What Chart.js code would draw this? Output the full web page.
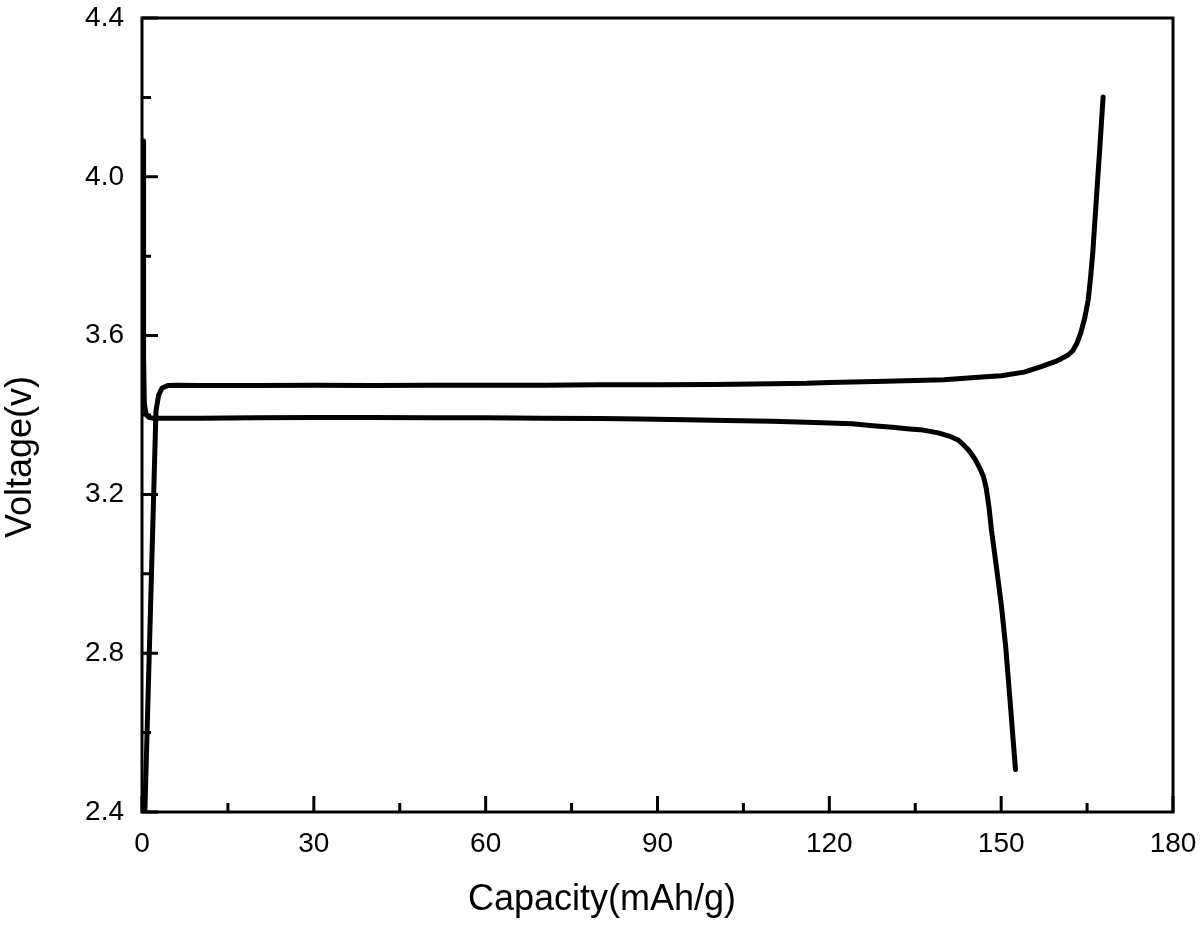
<!DOCTYPE html>
<html>
<head>
<meta charset="utf-8">
<style>
html,body{margin:0;padding:0;background:#fff;}
#wrap{width:1200px;height:925px;position:relative;}
</style>
<script src="https://cdn.jsdelivr.net/npm/chart.js@4.4.1/dist/chart.umd.min.js"></script>
</head>
<body>
<div id="wrap"><canvas id="c" width="1200" height="925"></canvas></div>
<script>
// ---- data ----
const chargeCapacity = [0.5, 1.0, 1.5, 2.0, 2.44, 2.9, 3.5, 4.5, 6, 10, 20, 30, 40, 50, 60, 70, 80, 90, 100, 110, 116, 120, 130, 140, 143, 146, 150, 154, 157, 159.5, 160.5, 161.7, 162.5, 163.2, 163.9, 164.6, 165.2, 165.6, 166.0, 166.3, 166.6, 166.9, 167.2, 167.5, 167.8];
const chargeVoltage  = [2.40, 2.66, 2.92, 3.18, 3.41, 3.45, 3.468, 3.474, 3.475, 3.474, 3.474, 3.475, 3.474, 3.475, 3.475, 3.475, 3.476, 3.476, 3.477, 3.479, 3.480, 3.482, 3.485, 3.489, 3.492, 3.495, 3.499, 3.508, 3.522, 3.535, 3.542, 3.551, 3.562, 3.580, 3.607, 3.645, 3.690, 3.745, 3.810, 3.875, 3.940, 4.005, 4.068, 4.135, 4.201];

const dischargeCapacity = [0.2, 0.25, 0.3, 0.4, 0.7, 1.2, 2, 5, 10, 20, 30, 40, 50, 60, 70, 80, 87, 95, 102, 110, 116, 120, 124, 127.6, 131, 134, 136.4, 139, 141.1, 142.5, 143.4, 144.3, 145.1, 145.7, 146.3, 146.9, 147.4, 147.9, 148.3, 149.3, 150.0, 150.8, 151.5, 152.5];
const dischargeVoltage  = [4.09, 3.80, 3.55, 3.43, 3.402, 3.394, 3.392, 3.392, 3.392, 3.393, 3.394, 3.394, 3.393, 3.393, 3.392, 3.391, 3.390, 3.388, 3.386, 3.384, 3.382, 3.380, 3.378, 3.373, 3.369, 3.365, 3.362, 3.355, 3.346, 3.337, 3.325, 3.312, 3.296, 3.282, 3.265, 3.245, 3.215, 3.165, 3.111, 3.003, 2.925, 2.815, 2.690, 2.507];

const xTickValues = [0, 30, 60, 90, 120, 150, 180];
const xTickLabels = ['0', '30', '60', '90', '120', '150', '180'];
const xMinorTickValues = [15, 45, 75, 105, 135, 165];
const yTickValues = [2.4, 2.8, 3.2, 3.6, 4.0, 4.4];
const yTickLabels = ['2.4', '2.8', '3.2', '3.6', '4.0', '4.4'];
const yMinorTickValues = [2.6, 3.0, 3.4, 3.8, 4.2];
const xTitle = 'Capacity(mAh/g)';
const yTitle = 'Voltage(v)';

// ---- build datasets from the arrays ----
const toPoints = (xs, ys) => xs.map((x, i) => ({x: x, y: ys[i]}));

const FONT = '"Liberation Sans", Arial, sans-serif';

const framePlugin = {
  id: 'frameAndTicks',
  beforeDatasetsDraw(chart) {
    const ctx = chart.ctx;
    const a = chart.chartArea;
    const xs = chart.scales.x, ys = chart.scales.y;
    ctx.save();
    ctx.strokeStyle = '#000';
    ctx.lineWidth = 3;
    ctx.lineCap = 'butt';
    ctx.strokeRect(a.left, a.top, a.right - a.left, a.bottom - a.top);
    ctx.beginPath();
    xTickValues.forEach(v => {
      const p = xs.getPixelForValue(v);
      ctx.moveTo(p, a.bottom); ctx.lineTo(p, a.bottom - 16);
    });
    xMinorTickValues.forEach(v => {
      const p = xs.getPixelForValue(v);
      ctx.moveTo(p, a.bottom); ctx.lineTo(p, a.bottom - 9);
    });
    yTickValues.forEach(v => {
      const p = ys.getPixelForValue(v);
      ctx.moveTo(a.left, p); ctx.lineTo(a.left + 16, p);
    });
    yMinorTickValues.forEach(v => {
      const p = ys.getPixelForValue(v);
      ctx.moveTo(a.left, p); ctx.lineTo(a.left + 9, p);
    });
    ctx.stroke();
    ctx.restore();
  },
  afterDraw(chart) {
    const ctx = chart.ctx;
    ctx.save();
    ctx.fillStyle = '#000';
    ctx.font = '36px ' + FONT;
    ctx.textAlign = 'center';
    ctx.textBaseline = 'alphabetic';
    ctx.fillText(xTitle, 602, 910);
    ctx.translate(31, 457);
    ctx.rotate(-Math.PI / 2);
    ctx.fillText(yTitle, 0, 0);
    ctx.restore();
  }
};

const lineStyle = {
  borderColor: '#000',
  backgroundColor: '#000',
  borderWidth: 5,
  pointRadius: 0,
  showLine: true,
  tension: 0,
  fill: false,
  borderCapStyle: 'round',
  borderJoinStyle: 'round'
};

new Chart(document.getElementById('c'), {
  type: 'scatter',
  data: {
    datasets: [
      Object.assign({label: 'Charge', data: toPoints(chargeCapacity, chargeVoltage)}, lineStyle),
      Object.assign({label: 'Discharge', data: toPoints(dischargeCapacity, dischargeVoltage)}, lineStyle)
    ]
  },
  options: {
    responsive: false,
    animation: false,
    devicePixelRatio: 1,
    layout: {padding: {top: 18, right: 27, left: 0, bottom: 0}},
    plugins: {legend: {display: false}, tooltip: {enabled: false}},
    scales: {
      x: {
        type: 'linear',
        min: 0, max: 180,
        afterBuildTicks: s => { s.ticks = xTickValues.map(v => ({value: v})); },
        afterFit: s => { s.height = 113; s.paddingLeft = 0; s.paddingRight = 0; },
        grid: {display: false, drawTicks: false},
        border: {display: false},
        ticks: {
          color: '#000',
          font: {family: FONT, size: 28},
          padding: 15,
          maxRotation: 0,
          autoSkip: false,
          callback: (v, i) => xTickLabels[i]
        }
      },
      y: {
        type: 'linear',
        min: 2.4, max: 4.4,
        afterBuildTicks: s => { s.ticks = yTickValues.map(v => ({value: v})); },
        afterFit: s => { s.width = 142; s.paddingTop = 0; s.paddingBottom = 0; },
        grid: {display: false, drawTicks: false},
        border: {display: false},
        ticks: {
          color: '#000',
          font: {family: FONT, size: 28},
          padding: 18,
          autoSkip: false,
          callback: (v, i) => yTickLabels[i]
        }
      }
    }
  },
  plugins: [framePlugin]
});
</script>
</body>
</html>
